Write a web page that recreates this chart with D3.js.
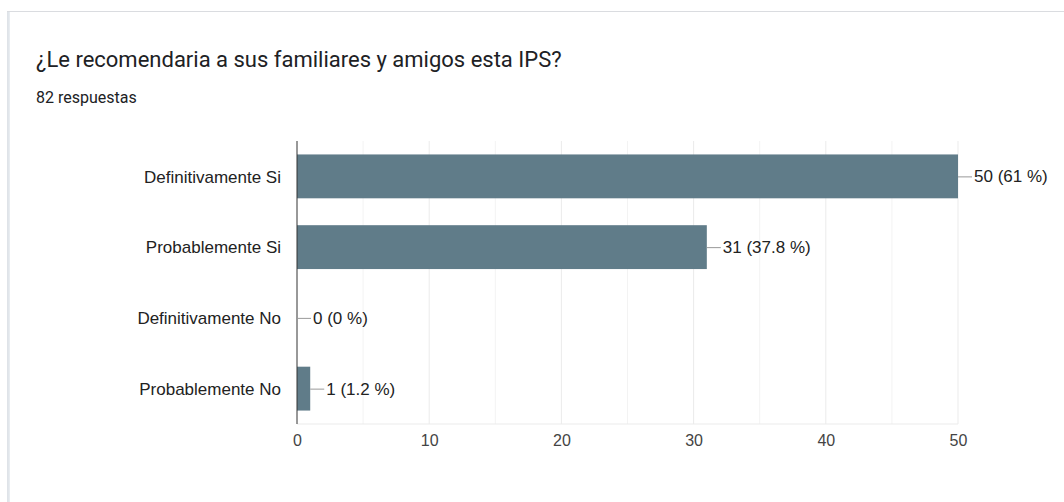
<!DOCTYPE html>
<html>
<head>
<meta charset="utf-8">
<script src="https://cdn.jsdelivr.net/npm/d3@7"></script>
<style>
  html, body { margin: 0; padding: 0; background: #fff; }
  svg { display: block; }
</style>
</head>
<body>
<svg id="chart" width="1064" height="502"></svg>
<script>
// Survey answers and counts
const categories = ["Definitivamente Si", "Probablemente Si", "Definitivamente No", "Probablemente No"];
const counts = [50, 31, 0, 1];
const percents = ["61 %", "37.8 %", "0 %", "1.2 %"];
const tickValues = [0, 10, 20, 30, 40, 50];
const minorTicks = [5, 15, 25, 35, 45];
const title = "¿Le recomendaria a sus familiares y amigos esta IPS?";
const subtitle = "82 respuestas";

const svg = d3.select("#chart");
const chartFont = "Arial, 'Liberation Sans', sans-serif";

// Card outline (left and top edges)
svg.append("rect")
  .attr("x", 7.5).attr("y", 11.5)
  .attr("width", 1080).attr("height", 520)
  .attr("fill", "#fff")
  .attr("stroke", "#dadce0").attr("stroke-width", 1);
svg.append("line")
  .attr("x1", 8.5).attr("x2", 8.5).attr("y1", 12).attr("y2", 502)
  .attr("stroke", "#e1e6eb").attr("stroke-width", 2.5);

svg.append("text")
  .attr("x", 36).attr("y", 67)
  .attr("font-family", "Roboto, sans-serif")
  .attr("font-size", 22)
  .attr("fill", "#202124")
  .text(title);

svg.append("text")
  .attr("x", 36).attr("y", 103)
  .attr("font-family", "Roboto, sans-serif")
  .attr("font-size", 16)
  .attr("fill", "#202124")
  .text(subtitle);

const plot = { left: 297, right: 958, top: 141, bottom: 424 };

const x = d3.scaleLinear().domain([0, 50]).range([plot.left, plot.right]);
const y = d3.scaleBand().domain(categories).range([plot.top, plot.bottom]).paddingInner(0.38).paddingOuter(0.19);

const g = svg.append("g");

// Minor and major gridlines
g.selectAll("line.minor").data(minorTicks).join("line")
  .attr("x1", d => x(d)).attr("x2", d => x(d))
  .attr("y1", plot.top).attr("y2", plot.bottom)
  .attr("stroke", "#f3f3f3");
g.selectAll("line.major").data(tickValues.slice(1)).join("line")
  .attr("x1", d => x(d)).attr("x2", d => x(d))
  .attr("y1", plot.top).attr("y2", plot.bottom)
  .attr("stroke", "#ebebeb");
g.append("line")
  .attr("x1", plot.left).attr("x2", plot.right)
  .attr("y1", plot.bottom).attr("y2", plot.bottom)
  .attr("stroke", "#ebebeb");

// Bars
const rows = categories.map((c, i) => ({ c, v: counts[i], p: percents[i] }));
g.selectAll("rect.bar").data(rows).join("rect")
  .attr("x", x(0))
  .attr("y", d => y(d.c))
  .attr("width", d => x(d.v) - x(0))
  .attr("height", y.bandwidth())
  .attr("fill", "#607c89");

// Baseline at zero
g.append("line")
  .attr("x1", x(0)).attr("x2", x(0))
  .attr("y1", plot.top).attr("y2", plot.bottom)
  .attr("stroke", "#333").attr("stroke-width", 1);

// Value annotations with leader lines
g.selectAll("line.lead").data(rows).join("line")
  .attr("x1", d => x(d.v)).attr("x2", d => x(d.v) + 14)
  .attr("y1", d => y(d.c) + y.bandwidth() / 2 + 0.5)
  .attr("y2", d => y(d.c) + y.bandwidth() / 2 + 0.5)
  .attr("stroke", "#999");
g.selectAll("text.val").data(rows).join("text")
  .attr("x", d => x(d.v) + 16)
  .attr("y", d => y(d.c) + y.bandwidth() / 2)
  .attr("dy", "0.36em")
  .attr("font-family", chartFont)
  .attr("font-size", 17)
  .attr("fill", "#222")
  .text(d => `${d.v} (${d.p})`);

// Category labels
const yAxis = d3.axisLeft(y).tickSize(0).tickPadding(16);
svg.append("g")
  .attr("transform", `translate(${plot.left},0)`)
  .call(yAxis)
  .call(s => s.select(".domain").remove())
  .selectAll("text")
  .attr("dy", "0.36em")
  .attr("font-family", chartFont)
  .attr("font-size", 17)
  .attr("fill", "#222");

// Value axis labels
const xAxis = d3.axisBottom(x).tickValues(tickValues).tickSize(0).tickPadding(11);
svg.append("g")
  .attr("transform", `translate(0,${plot.bottom})`)
  .call(xAxis)
  .call(s => s.select(".domain").remove())
  .selectAll("text")
  .attr("font-family", chartFont)
  .attr("font-size", 16)
  .attr("fill", "#444");
</script>
</body>
</html>
